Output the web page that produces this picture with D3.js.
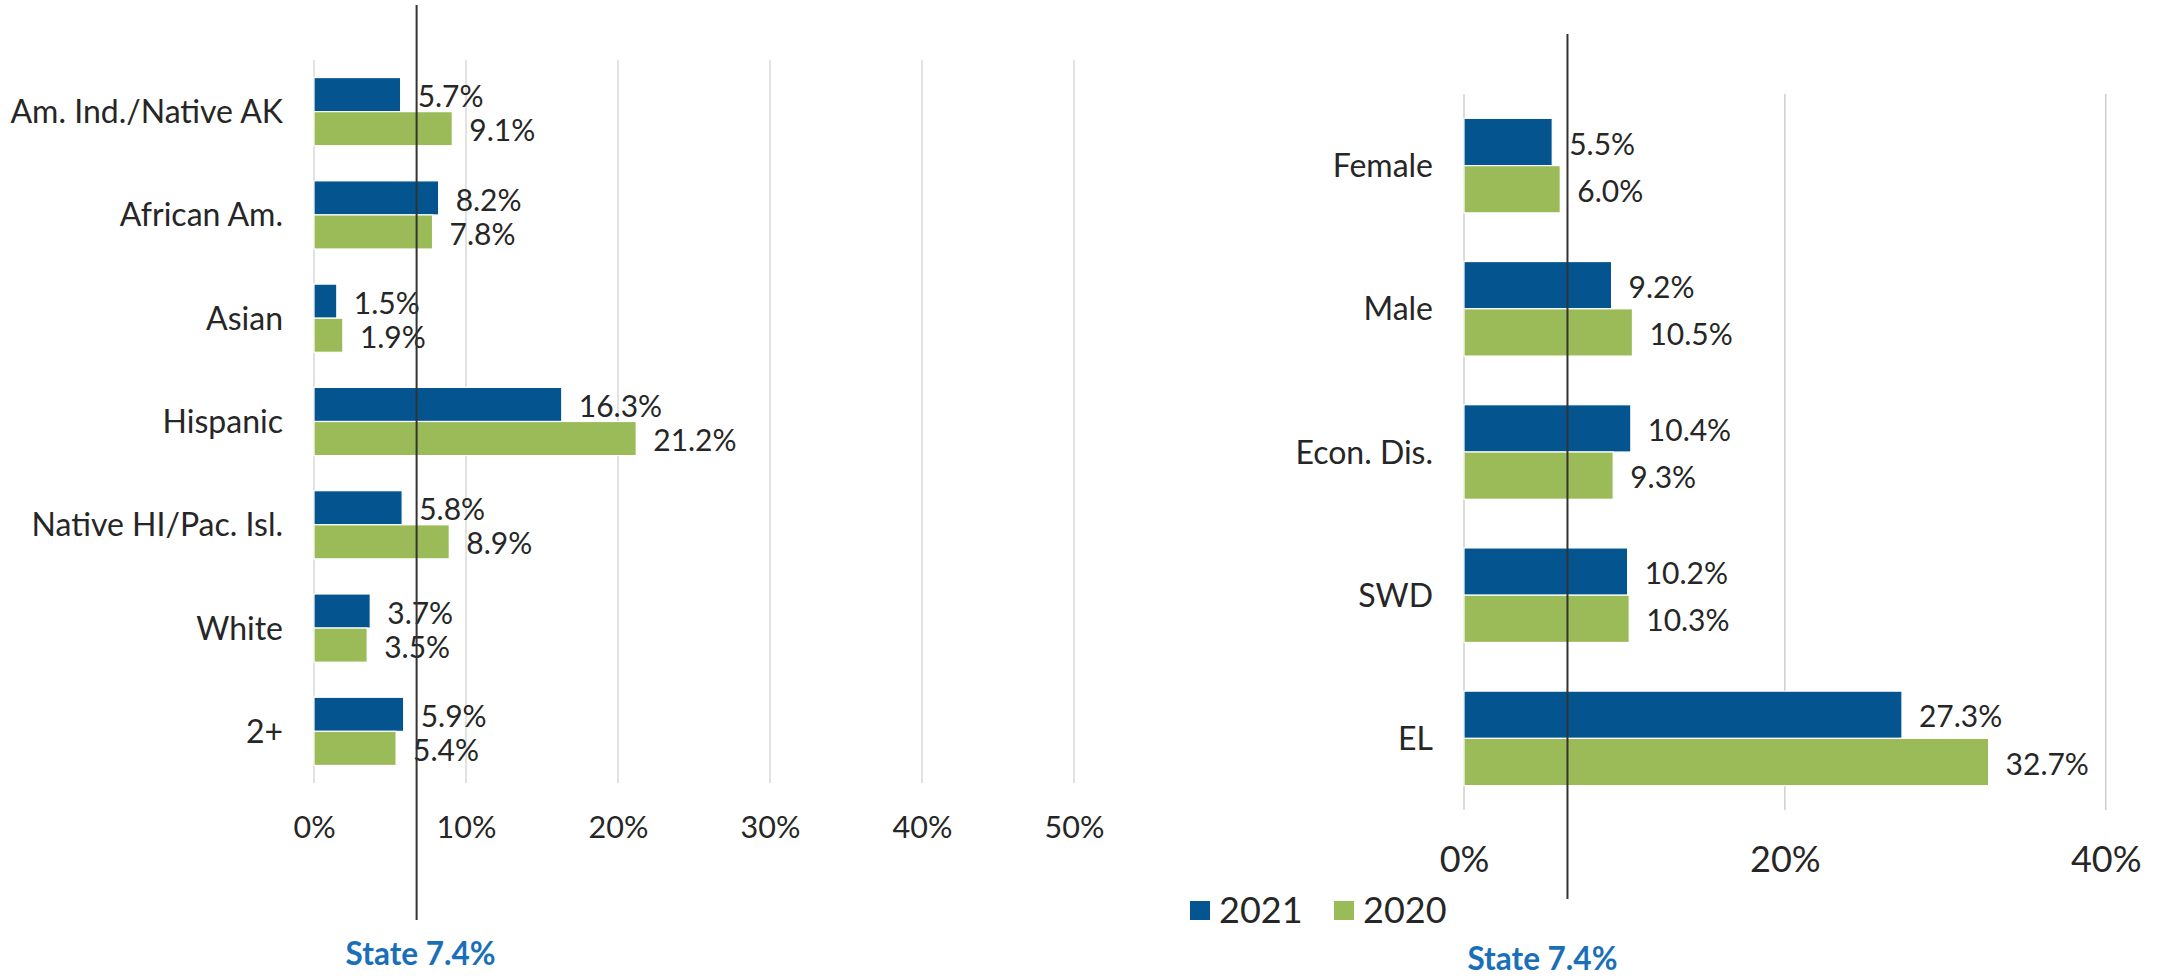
<!DOCTYPE html>
<html>
<head>
<meta charset="utf-8">
<script src="https://cdn.jsdelivr.net/npm/d3@7"></script>
<style>
  html, body { margin: 0; padding: 0; background: #fff; }
  svg { display: block; }
  text { font-family: Lato, "Open Sans", sans-serif; fill: #262626; }
</style>
</head>
<body>
<svg id="chart" width="2164" height="980"></svg>
<script>
// ---- Data ----
const seriesNames = ["2021", "2020"];
const seriesColors = ["#03548f", "#9bbb59"];

const raceCategories = ["Am. Ind./Native AK", "African Am.", "Asian", "Hispanic", "Native HI/Pac. Isl.", "White", "2+"];
const race2021 = [5.7, 8.2, 1.5, 16.3, 5.8, 3.7, 5.9];
const race2020 = [9.1, 7.8, 1.9, 21.2, 8.9, 3.5, 5.4];
const raceTicks = [0, 10, 20, 30, 40, 50];

const groupCategories = ["Female", "Male", "Econ. Dis.", "SWD", "EL"];
const group2021 = [5.5, 9.2, 10.4, 10.2, 27.3];
const group2020 = [6.0, 10.5, 9.3, 10.3, 32.7];
const groupTicks = [0, 20, 40];

const stateRate = 7.4;
// where the reference draws the state marker line on each panel (in % units)
const stateMarkerLeft = 6.75;
const stateMarkerRight = 6.45;

// ---- Drawing ----
const svg = d3.select("#chart");
const fmtVal = d => d3.format(".1f")(d) + "%";
const fmtTick = d => d3.format("d")(d) + "%";

function panel(opts) {
  const g = svg.append("g");
  const x = d3.scaleLinear().domain(opts.domain).range(opts.xRange);
  const y = d3.scaleBand().domain(opts.categories).range(opts.yRange)
    .paddingInner(0.34).paddingOuter(0.17);
  const ySub = d3.scaleBand().domain(seriesNames).range([0, y.bandwidth()]);

  // gridlines
  g.append("g").selectAll("line").data(opts.ticks).join("line")
    .attr("x1", d => x(d)).attr("x2", d => x(d))
    .attr("y1", opts.yRange[0]).attr("y2", opts.yRange[1])
    .attr("stroke", opts.gridColor).attr("stroke-width", 1.5);

  // tick labels via axis
  const axis = d3.axisBottom(x).tickValues(opts.ticks).tickFormat(fmtTick).tickSize(0).tickPadding(0);
  const ag = g.append("g").attr("transform", `translate(0,${opts.yRange[1]})`).call(axis);
  ag.select(".domain").remove();
  ag.selectAll("text")
    .attr("y", opts.tickOffset).attr("dy", 0)
    .style("font-family", "Lato, sans-serif")
    .style("font-size", opts.tickSize + "px")
    .style("fill", "#262626");

  // category labels
  g.append("g").selectAll("text").data(opts.categories).join("text")
    .attr("x", x(0) - 31)
    .attr("y", d => y(d) + y.bandwidth() / 2)
    .attr("dy", "0.36em")
    .attr("text-anchor", "end")
    .style("font-size", "32px")
    .text(d => d);

  const rows = opts.categories.map((c, i) => ({ c, vals: [opts.v2021[i], opts.v2020[i]] }));
  const grp = g.append("g").selectAll("g").data(rows).join("g")
    .attr("transform", d => `translate(0,${y(d.c)})`);

  grp.selectAll("rect").data(d => d.vals.map((v, k) => ({ s: seriesNames[k], v, k })))
    .join("rect")
    .attr("x", x(0))
    .attr("y", d => ySub(d.s))
    .attr("width", d => x(d.v) - x(0))
    .attr("height", ySub.bandwidth())
    .attr("fill", d => seriesColors[d.k])
    .attr("stroke", "#ffffff").attr("stroke-width", 1.2);

  grp.selectAll("text.val").data(d => d.vals.map((v, k) => ({ s: seriesNames[k], v, k })))
    .join("text").attr("class", "val")
    .attr("x", d => x(d.v) + 17)
    .attr("y", d => ySub(d.s) + ySub.bandwidth() / 2)
    .attr("dy", "0.42em")
    .style("font-size", "30px")
    .text(d => fmtVal(d.v));

  // state marker line
  g.append("line")
    .attr("x1", x(opts.marker)).attr("x2", x(opts.marker))
    .attr("y1", opts.lineY[0]).attr("y2", opts.lineY[1])
    .attr("stroke", "#333").attr("stroke-width", 2);

  g.append("text")
    .attr("x", x(opts.marker) + opts.stateDx)
    .attr("y", opts.stateY)
    .attr("text-anchor", "middle")
    .style("font-size", "31.5px").style("font-weight", "bold")
    .style("fill", "#1a70b8")
    .text("State " + stateRate + "%");

  return { x, y };
}

panel({
  categories: raceCategories, v2021: race2021, v2020: race2020, ticks: raceTicks,
  domain: [0, 50], xRange: [314, 1074], yRange: [60, 783],
  gridColor: "#d9d9d9", tickSize: 30.5, tickOffset: 55,
  marker: stateMarkerLeft, lineY: [5, 920], stateY: 965, stateDx: 4
});

panel({
  categories: groupCategories, v2021: group2021, v2020: group2020, ticks: groupTicks,
  domain: [0, 40], xRange: [1464, 2105.7], yRange: [94, 810],
  gridColor: "#cfcfcf", tickSize: 36, tickOffset: 62,
  marker: stateMarkerRight, lineY: [34, 899], stateY: 970, stateDx: -25
});

// legend
const legend = svg.append("g").attr("transform", "translate(1190,901)");
const lx = d3.scaleOrdinal().domain(seriesNames).range([0, 144]);
const li = legend.selectAll("g").data(seriesNames).join("g")
  .attr("transform", d => `translate(${lx(d)},0)`);
li.append("rect").attr("width", 20).attr("height", 19)
  .attr("fill", (d, i) => seriesColors[i]);
li.append("text").attr("x", 29).attr("y", 22)
  .style("font-size", "36px").text(d => d);
</script>
</body>
</html>
